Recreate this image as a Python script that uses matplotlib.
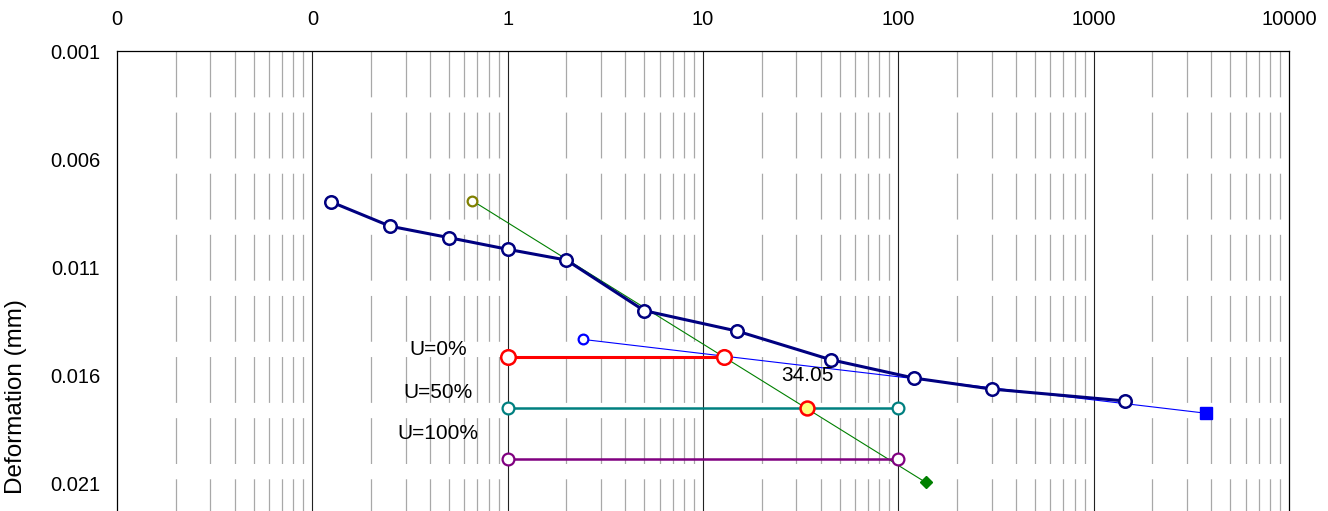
import numpy as np
import matplotlib
matplotlib.use("Agg")
import matplotlib.pyplot as plt

plt.rcParams['font.family'] = ['Liberation Sans', 'DejaVu Sans']
plt.rcParams['lines.scale_dashes'] = False

# ---- data ----
time_min = [0.125, 0.25, 0.5, 1, 2, 5, 15, 45, 120, 300, 1440]
deform_mm = [0.00799, 0.00911, 0.00964, 0.01018, 0.01068, 0.01302,
             0.01397, 0.01529, 0.01614, 0.01665, 0.01720]

tangent_x = [0.659, 138]            # green construction line
tangent_y = [0.00793, 0.02097]
secondary_x = [2.42, 3760]          # blue secondary-compression line
secondary_y = [0.01435, 0.01777]

u0_x = [1, 12.85]
u0_y = [0.01515, 0.01515]
u50_x = [1, 100]
u50_y = [0.017525, 0.017525]
u100_x = [1, 100]
u100_y = [0.01990, 0.01990]

t50 = 34.05
u_labels = ['U=0%', 'U=50%', 'U=100%']

x_ticks = [0.01, 0.1, 1, 10, 100, 1000, 10000]
x_tick_labels = ['0', '0', '1', '10', '100', '1000', '10000']
y_ticks = [0.001, 0.006, 0.011, 0.016, 0.021]
y_tick_labels = ['0.001', '0.006', '0.011', '0.016', '0.021']

# ---- figure ----
W, H = 1328, 511
fig = plt.figure(figsize=(W / 100, H / 100), dpi=100)
ax = fig.add_axes([117 / W, 0.0, 1172 / W, 460 / H])

ax.set_xscale('log')
xlo, xhi = 0.01, 10000
ytop, ybot = 0.001, 0.022296
ax.set_xlim(xlo, xhi)
ax.set_ylim(ybot, ytop)

# grid lines
minor = [m * 10.0 ** e for e in range(-2, 4) for m in range(2, 10)]
ax.vlines(minor, ytop, ybot, colors='#a8a8a8', linewidth=0.9,
          linestyles=[(0, (33, 11))], zorder=0.5)
ax.vlines(x_ticks[1:-1], ytop, ybot, colors='#222222', linewidth=0.8, zorder=0.6)

# construction lines
ax.plot(tangent_x, tangent_y, color='#008000', lw=0.8, zorder=2)
ax.plot(secondary_x, secondary_y, color='#0000ff', lw=0.8, zorder=2)
ax.plot(tangent_x[:1], tangent_y[:1], 'o', ms=7, mfc='white', mec='#808000', mew=1.6, zorder=3)
ax.plot(tangent_x[1:], tangent_y[1:], 'D', ms=6.5, mfc='#008000', mec='#008000', mew=1, zorder=3)
ax.plot(secondary_x[:1], secondary_y[:1], 'o', ms=7, mfc='white', mec='#0000ff', mew=1.6, zorder=3)
ax.plot(secondary_x[1:], secondary_y[1:], 's', ms=8, mfc='#0000ff', mec='#0000ff', mew=1, zorder=3)

# U lines
ax.plot(u0_x, u0_y, color='#ff0000', lw=2.2, marker='o', ms=10.5, mfc='white',
        mec='#ff0000', mew=1.8, zorder=5)
ax.plot(u50_x, u50_y, color='#008080', lw=1.8, marker='o', ms=8.5, mfc='white',
        mec='#008080', mew=1.6, zorder=4)
ax.plot(u100_x, u100_y, color='#800080', lw=1.8, marker='o', ms=8.5, mfc='white',
        mec='#800080', mew=1.6, zorder=4)
ax.plot([t50], [u50_y[0]], 'o', ms=10, mfc='#ffff80', mec='#ff0000', mew=1.8, zorder=6)

# main curve
ax.plot(time_min, deform_mm, color='#000080', lw=2.2, marker='o', ms=9,
        mfc='white', mec='#000080', mew=1.8, zorder=4.5)

# text
fs = 14.5
fs_txt = 15
ax.text(t50, 0.0160, f'{t50:.2f}', ha='center', va='center', fontsize=fs_txt, zorder=7)
lab_x = 0.44
for lab, yv in zip(u_labels, [0.0148, 0.0168, 0.0187]):
    ax.text(lab_x, yv, lab, ha='center', va='center', fontsize=fs_txt, zorder=7)

# axes styling
ax.xaxis.set_ticks_position('top')
ax.set_xticks(x_ticks)
ax.set_xticklabels(x_tick_labels)
ax.xaxis.set_minor_locator(matplotlib.ticker.NullLocator())
ax.set_yticks(y_ticks)
ax.set_yticklabels(y_tick_labels)
ax.tick_params(axis='x', length=0, pad=16, labelsize=fs)
ax.tick_params(axis='y', length=0, pad=12, labelsize=fs)
fig.text(16 / W, (H - 397) / H, 'Deformation (mm)', rotation=90,
         ha='center', va='center', fontsize=17.5)
for s in ['left', 'right', 'top']:
    ax.spines[s].set_color('black')
    ax.spines[s].set_linewidth(0.9)
ax.spines['bottom'].set_visible(False)
ax.set_facecolor('white')
fig.patch.set_facecolor('white')

fig.savefig('out.png', dpi=100)
